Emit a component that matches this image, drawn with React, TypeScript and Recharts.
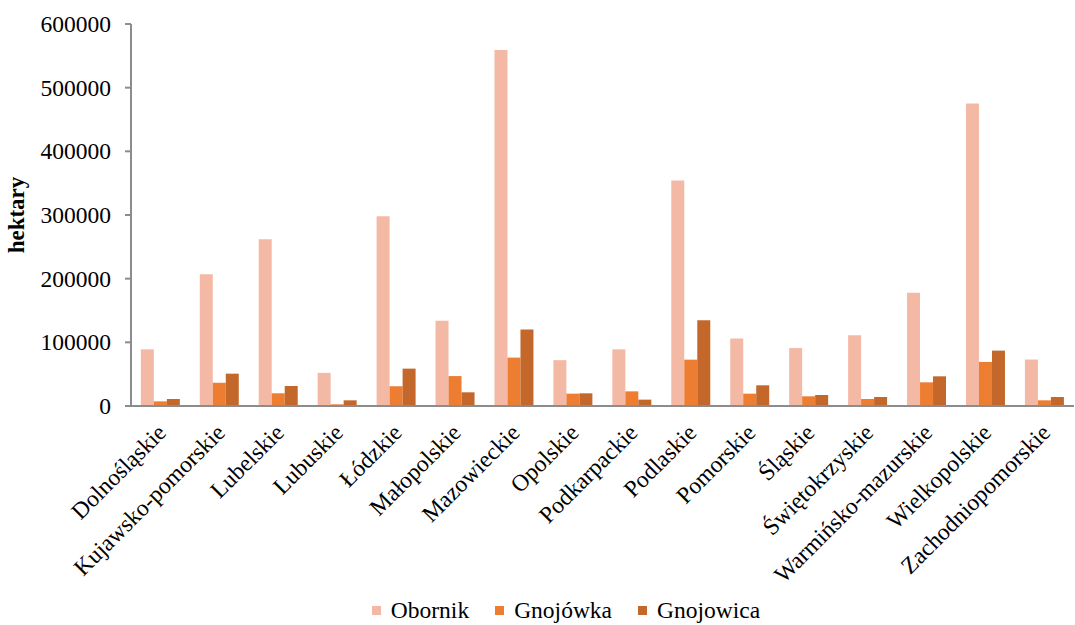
import { BarChart, Bar, XAxis, YAxis, Legend } from "recharts";

const regions = [
  "Dolnośląskie",
  "Kujawsko-pomorskie",
  "Lubelskie",
  "Lubuskie",
  "Łódzkie",
  "Małopolskie",
  "Mazowieckie",
  "Opolskie",
  "Podkarpackie",
  "Podlaskie",
  "Pomorskie",
  "Śląskie",
  "Świętokrzyskie",
  "Warmińsko-mazurskie",
  "Wielkopolskie",
  "Zachodniopomorskie",
];

// hectares fertilised with each kind of natural fertiliser
const obornik = [
  89000, 207000, 262000, 52000, 298000, 134000, 559000, 72000, 89000, 354000,
  106000, 91000, 111000, 178000, 475000, 73000,
];
const gnojowka = [
  7300, 36500, 20000, 2600, 31000, 47000, 76000, 19400, 23000, 72800, 19400,
  15200, 11000, 37200, 69200, 8900,
];
const gnojowica = [
  11000, 50800, 31400, 8900, 58700, 21500, 120000, 19900, 10000, 134700, 32500,
  17300, 14100, 46600, 87000, 14100,
];

const yTicks = [0, 100000, 200000, 300000, 400000, 500000, 600000];

const series = [
  { key: "obornik", name: "Obornik", color: "#F4B9A5" },
  { key: "gnojowka", name: "Gnojówka", color: "#ED7D31" },
  { key: "gnojowica", name: "Gnojowica", color: "#C4672A" },
];

const data = regions.map((region, i) => ({
  region,
  obornik: obornik[i],
  gnojowka: gnojowka[i],
  gnojowica: gnojowica[i],
}));

const FONT = "'Liberation Serif', 'Times New Roman', serif";
const AXIS_GREY = "#8c8c8c";

const RegionTick = ({ x, y, payload }: any) => {
  const ax = x + 7;
  const ay = y + 28;
  return (
    <text
      x={ax}
      y={ay}
      transform={`rotate(-45, ${ax}, ${ay})`}
      textAnchor="end"
      style={{ fontFamily: FONT, fontSize: 23.5 }}
      fill="#000"
    >
      {payload.value}
    </text>
  );
};

const ValueTick = ({ x, y, payload }: any) => (
  <text
    x={x}
    y={y}
    dy={8}
    textAnchor="end"
    style={{ fontFamily: FONT, fontSize: 23.5 }}
    fill="#000"
  >
    {payload.value}
  </text>
);

const YLabel = ({ viewBox }: any) => {
  const cx = 24;
  const cy = viewBox.y + viewBox.height / 2;
  return (
    <text
      x={cx}
      y={cy}
      transform={`rotate(-90, ${cx}, ${cy})`}
      textAnchor="middle"
      style={{ fontFamily: FONT, fontSize: 23, fontWeight: "bold" }}
      fill="#000"
    >
      hektary
    </text>
  );
};

const LegendContent = () => (
  <div
    style={{
      display: "flex",
      justifyContent: "center",
      alignItems: "center",
      gap: 26,
      paddingLeft: 58,
      fontFamily: FONT,
      fontSize: 23.5,
      color: "#000",
      lineHeight: "30px",
    }}
  >
    {series.map((s) => (
      <div key={s.key} style={{ display: "flex", alignItems: "center" }}>
        <span
          style={{
            display: "inline-block",
            width: 9,
            height: 9,
            background: s.color,
            marginRight: 10,
          }}
        />
        <span style={{ fontFamily: FONT }}>{s.name}</span>
      </div>
    ))}
  </div>
);

export default function App() {
  return (
    <div
      style={{
        position: "absolute",
        left: 0,
        top: 0,
        background: "#fff",
        fontFamily: FONT,
      }}
    >
      <BarChart
        width={1075}
        height={625}
        data={data}
        margin={{ top: 24, right: 1, left: 0, bottom: 0 }}
        barCategoryGap="16.7%"
        barGap={0}
      >
        <XAxis
          dataKey="region"
          interval={0}
          height={189}
          tickSize={0}
          tickMargin={0}
          tickLine={false}
          axisLine={{ stroke: AXIS_GREY, strokeWidth: 2 }}
          tick={<RegionTick />}
        />
        <YAxis
          width={131}
          domain={[0, 600000]}
          ticks={yTicks}
          interval={0}
          tickSize={6}
          tickMargin={14}
          axisLine={{ stroke: AXIS_GREY, strokeWidth: 2 }}
          tickLine={{ stroke: AXIS_GREY, strokeWidth: 2 }}
          tick={<ValueTick />}
          label={<YLabel />}
        />
        <Legend
          verticalAlign="bottom"
          height={30}
          wrapperStyle={{ height: 30 }}
          content={<LegendContent />}
        />
        {series.map((s) => (
          <Bar
            key={s.key}
            dataKey={s.key}
            name={s.name}
            fill={s.color}
            isAnimationActive={false}
          />
        ))}
      </BarChart>
    </div>
  );
}
